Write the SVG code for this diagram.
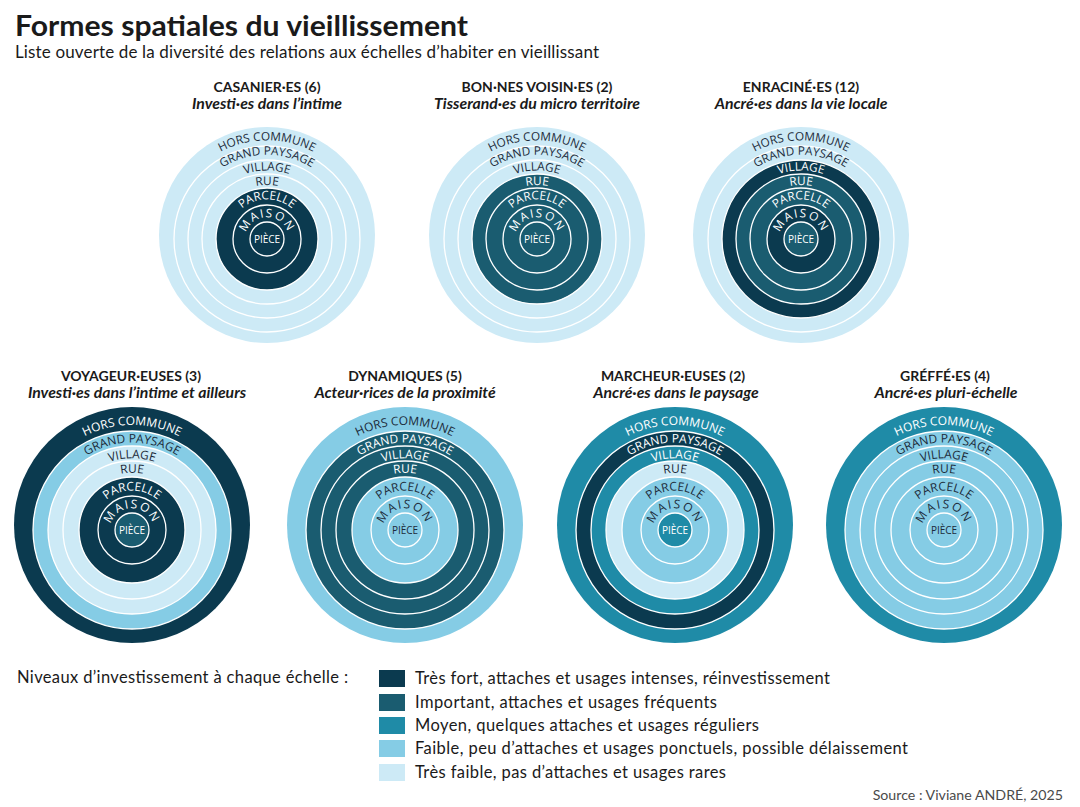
<svg xmlns="http://www.w3.org/2000/svg" xmlns:xlink="http://www.w3.org/1999/xlink" width="1080" height="807" viewBox="0 0 1080 807">
<style>
.tf{fill:#0b3a4f}.im{fill:#1a5c70}.mo{fill:#1f8ba7}.fa{fill:#85cce5}.vf{fill:#cdeaf6}
.r{stroke:#fff;stroke-width:1.3}
.rl{font-family:"Open Sans","DejaVu Sans",sans-serif;text-anchor:middle}
.top .rl{font-size:11.8px}.bot .rl{font-size:12px}
.w{fill:#ffffff}.d{fill:#1c2b3a}
.hd{font-family:Lato,"Liberation Sans",sans-serif;font-weight:700;font-size:14px;fill:#1a1a1a;text-anchor:middle}
.sh{font-family:Lato,"Liberation Sans",sans-serif;font-weight:700;font-style:italic;font-size:15.8px;fill:#1a1a1a;text-anchor:middle}
.lg{font-family:Lato,"Liberation Sans",sans-serif;font-size:16.5px;fill:#1a1a1a}
.ma{letter-spacing:1.6px}
</style>
<defs>
<path id="t-hc" d="M-98.6,-8.6 A99,99 0 0 1 98.6,-8.6"/>
<path id="t-gp" d="M-83.7,-7.3 A84,84 0 0 1 83.7,-7.3"/>
<path id="t-v" d="M-68.7,-6.0 A69,69 0 0 1 68.7,-6.0"/>
<path id="t-r" d="M-53.8,-4.7 A54,54 0 0 1 53.8,-4.7"/>
<path id="t-p" d="M-38.9,-3.4 A39,39 0 0 1 38.9,-3.4"/>
<path id="t-m" d="M-21.9,-1.9 A22,22 0 0 1 21.9,-1.9"/>
<path id="b-hc" d="M-104.6,-9.2 A105,105 0 0 1 104.6,-9.2"/>
<path id="b-gp" d="M-86.7,-7.6 A87,87 0 0 1 86.7,-7.6"/>
<path id="b-v" d="M-71.7,-6.3 A72,72 0 0 1 71.7,-6.3"/>
<path id="b-r" d="M-56.8,-5.0 A57,57 0 0 1 56.8,-5.0"/>
<path id="b-p" d="M-39.8,-3.5 A40,40 0 0 1 39.8,-3.5"/>
<path id="b-m" d="M-21.9,-1.9 A22,22 0 0 1 21.9,-1.9"/>
</defs>
<rect width="1080" height="807" fill="#ffffff"/>

<g id="title">
<text x="15" y="36" font-family="Lato,'Liberation Sans',sans-serif" font-weight="700" font-size="29" fill="#1a1a1a" textLength="453" lengthAdjust="spacingAndGlyphs">Formes spatiales du vieillissement</text>
<text x="15" y="58" font-family="Lato,'Liberation Sans',sans-serif" font-size="17" fill="#1a1a1a" textLength="584">Liste ouverte de la diversité des relations aux échelles d’habiter en vieillissant</text>
</g>

<!-- TOP ROW -->
<g id="casanier" class="top" transform="translate(267,239)">
<text class="hd" x="0" y="-147">CASANIER·ES (6)</text>
<text class="sh" x="0" y="-130">Investi·es dans l’intime</text>
<circle class="vf" cx="0" cy="-4" r="108"/>
<circle class="vf r" r="93"/><circle class="vf r" r="79"/><circle class="vf r" r="65"/>
<circle class="tf r" r="51"/><circle class="tf r" r="34"/><circle class="tf r" r="17"/>
<text class="rl d"><textPath href="#t-hc" startOffset="50%">HORS COMMUNE</textPath></text>
<text class="rl d"><textPath href="#t-gp" startOffset="50%">GRAND PAYSAGE</textPath></text>
<text class="rl d"><textPath href="#t-v" startOffset="50%">VILLAGE</textPath></text>
<text class="rl d"><textPath href="#t-r" startOffset="50%">RUE</textPath></text>
<text class="rl w"><textPath href="#t-p" startOffset="50%">PARCELLE</textPath></text>
<text class="rl w ma"><textPath href="#t-m" startOffset="50%">MAISON</textPath></text>
<text class="rl w" x="0" y="3.5" style="font-size:10px">PIÈCE</text>
</g>

<g id="bons-voisins" class="top" transform="translate(537,239)">
<text class="hd" x="0" y="-147">BON·NES VOISIN·ES (2)</text>
<text class="sh" x="0" y="-130">Tisserand·es du micro territoire</text>
<circle class="vf" cx="0" cy="-4" r="108"/>
<circle class="vf r" r="93"/><circle class="vf r" r="79"/><circle class="im r" r="65"/>
<circle class="im r" r="51"/><circle class="im r" r="34"/><circle class="im r" r="17"/>
<text class="rl d"><textPath href="#t-hc" startOffset="50%">HORS COMMUNE</textPath></text>
<text class="rl d"><textPath href="#t-gp" startOffset="50%">GRAND PAYSAGE</textPath></text>
<text class="rl d"><textPath href="#t-v" startOffset="50%">VILLAGE</textPath></text>
<text class="rl w"><textPath href="#t-r" startOffset="50%">RUE</textPath></text>
<text class="rl w"><textPath href="#t-p" startOffset="50%">PARCELLE</textPath></text>
<text class="rl w ma"><textPath href="#t-m" startOffset="50%">MAISON</textPath></text>
<text class="rl w" x="0" y="3.5" style="font-size:10px">PIÈCE</text>
</g>

<g id="enracines" class="top" transform="translate(801,239)">
<text class="hd" x="0" y="-147">ENRACINÉ·ES (12)</text>
<text class="sh" x="0" y="-130">Ancré·es dans la vie locale</text>
<circle class="vf" cx="0" cy="-4" r="108"/>
<circle class="vf r" r="93"/><circle class="tf r" r="79"/><circle class="im r" r="65"/>
<circle class="im r" r="51"/><circle class="tf r" r="34"/><circle class="im r" r="17"/>
<text class="rl d"><textPath href="#t-hc" startOffset="50%">HORS COMMUNE</textPath></text>
<text class="rl d"><textPath href="#t-gp" startOffset="50%">GRAND PAYSAGE</textPath></text>
<text class="rl w"><textPath href="#t-v" startOffset="50%">VILLAGE</textPath></text>
<text class="rl w"><textPath href="#t-r" startOffset="50%">RUE</textPath></text>
<text class="rl w"><textPath href="#t-p" startOffset="50%">PARCELLE</textPath></text>
<text class="rl w ma"><textPath href="#t-m" startOffset="50%">MAISON</textPath></text>
<text class="rl w" x="0" y="3.5" style="font-size:10px">PIÈCE</text>
</g>

<!-- BOTTOM ROW -->
<g id="voyageurs" class="bot" transform="translate(132,530)">
<text class="hd" x="-1" y="-149">VOYAGEUR·EUSES (3)</text>
<text class="sh" x="5" y="-132">Investi·es dans l’intime et ailleurs</text>
<circle class="tf" cx="0" cy="-5" r="118"/>
<circle class="fa r" r="99"/><circle class="vf r" r="84"/><circle class="vf r" r="69"/>
<circle class="tf r" r="53"/><circle class="tf r" r="34"/><circle class="im r" r="17"/>
<text class="rl w"><textPath href="#b-hc" startOffset="50%">HORS COMMUNE</textPath></text>
<text class="rl d"><textPath href="#b-gp" startOffset="50%">GRAND PAYSAGE</textPath></text>
<text class="rl d"><textPath href="#b-v" startOffset="50%">VILLAGE</textPath></text>
<text class="rl d"><textPath href="#b-r" startOffset="50%">RUE</textPath></text>
<text class="rl w"><textPath href="#b-p" startOffset="50%">PARCELLE</textPath></text>
<text class="rl w ma"><textPath href="#b-m" startOffset="50%">MAISON</textPath></text>
<text class="rl w" x="0" y="3.5" style="font-size:10px">PIÈCE</text>
</g>

<g id="dynamiques" class="bot" transform="translate(405,530)">
<text class="hd" x="0" y="-149">DYNAMIQUES (5)</text>
<text class="sh" x="0" y="-132">Acteur·rices de la proximité</text>
<circle class="fa" cx="0" cy="-5" r="118"/>
<circle class="im r" r="99"/><circle class="im r" r="84"/><circle class="im r" r="69"/>
<circle class="fa r" r="53"/><circle class="fa r" r="34"/><circle class="fa r" r="17"/>
<text class="rl d"><textPath href="#b-hc" startOffset="50%">HORS COMMUNE</textPath></text>
<text class="rl w"><textPath href="#b-gp" startOffset="50%">GRAND PAYSAGE</textPath></text>
<text class="rl w"><textPath href="#b-v" startOffset="50%">VILLAGE</textPath></text>
<text class="rl w"><textPath href="#b-r" startOffset="50%">RUE</textPath></text>
<text class="rl d"><textPath href="#b-p" startOffset="50%">PARCELLE</textPath></text>
<text class="rl d ma"><textPath href="#b-m" startOffset="50%">MAISON</textPath></text>
<text class="rl d" x="0" y="3.5" style="font-size:10px">PIÈCE</text>
</g>

<g id="marcheurs" class="bot" transform="translate(675,530)">
<text class="hd" x="-2" y="-149">MARCHEUR·EUSES (2)</text>
<text class="sh" x="1" y="-132">Ancré·es dans le paysage</text>
<circle class="mo" cx="0" cy="-5" r="118"/>
<circle class="tf r" r="99"/><circle class="mo r" r="84"/><circle class="vf r" r="69"/>
<circle class="fa r" r="53"/><circle class="fa r" r="34"/><circle class="mo r" r="17"/>
<text class="rl w"><textPath href="#b-hc" startOffset="50%">HORS COMMUNE</textPath></text>
<text class="rl w"><textPath href="#b-gp" startOffset="50%">GRAND PAYSAGE</textPath></text>
<text class="rl w"><textPath href="#b-v" startOffset="50%">VILLAGE</textPath></text>
<text class="rl d"><textPath href="#b-r" startOffset="50%">RUE</textPath></text>
<text class="rl d"><textPath href="#b-p" startOffset="50%">PARCELLE</textPath></text>
<text class="rl d ma"><textPath href="#b-m" startOffset="50%">MAISON</textPath></text>
<text class="rl w" x="0" y="3.5" style="font-size:10px">PIÈCE</text>
</g>

<g id="greffes" class="bot" transform="translate(944,530)">
<text class="hd" x="1" y="-149">GRÉFFÉ·ES (4)</text>
<text class="sh" x="2" y="-132">Ancré·es pluri-échelle</text>
<circle class="mo" cx="0" cy="-5" r="118"/>
<circle class="fa r" r="99"/><circle class="fa r" r="84"/><circle class="fa r" r="69"/>
<circle class="fa r" r="53"/><circle class="fa r" r="34"/><circle class="fa r" r="17"/>
<text class="rl w"><textPath href="#b-hc" startOffset="50%">HORS COMMUNE</textPath></text>
<text class="rl d"><textPath href="#b-gp" startOffset="50%">GRAND PAYSAGE</textPath></text>
<text class="rl d"><textPath href="#b-v" startOffset="50%">VILLAGE</textPath></text>
<text class="rl d"><textPath href="#b-r" startOffset="50%">RUE</textPath></text>
<text class="rl d"><textPath href="#b-p" startOffset="50%">PARCELLE</textPath></text>
<text class="rl d ma"><textPath href="#b-m" startOffset="50%">MAISON</textPath></text>
<text class="rl d" x="0" y="3.5" style="font-size:10px">PIÈCE</text>
</g>

<g id="connectors"></g>

<g id="legend">
<text class="lg" x="17" y="683" textLength="331">Niveaux d’investissement à chaque échelle :</text>
<rect class="tf" x="379" y="670" width="26" height="17"/>
<rect class="im" x="379" y="694" width="26" height="17"/>
<rect class="mo" x="379" y="717" width="26" height="17"/>
<rect class="fa" x="379" y="740" width="26" height="17"/>
<rect class="vf" x="379" y="764" width="26" height="17"/>
<text class="lg" x="415" y="684" textLength="415">Très fort, attaches et usages intenses, réinvestissement</text>
<text class="lg" x="415" y="708" textLength="302">Important, attaches et usages fréquents</text>
<text class="lg" x="415" y="731" textLength="344">Moyen, quelques attaches et usages réguliers</text>
<text class="lg" x="415" y="754" textLength="493">Faible, peu d’attaches et usages ponctuels, possible délaissement</text>
<text class="lg" x="415" y="778" textLength="311">Très faible, pas d’attaches et usages rares</text>
</g>
<text id="source" x="1063" y="800" text-anchor="end" font-family="Lato,'Liberation Sans',sans-serif" font-size="14.2" fill="#4a4a4a">Source : Viviane ANDRÉ, 2025</text>
</svg>
